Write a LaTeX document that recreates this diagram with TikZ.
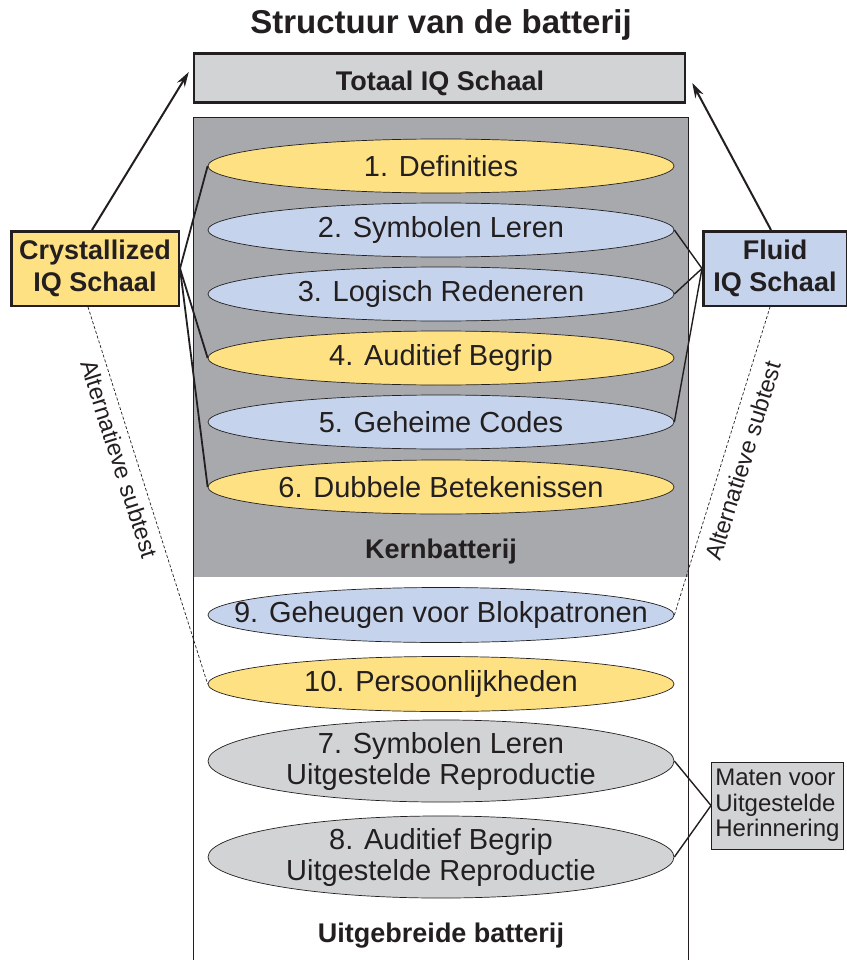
\documentclass[tikz,border=0pt]{standalone}
\usepackage{fontspec}
\setmainfont{Liberation Sans}
\usetikzlibrary{shapes.geometric,arrows.meta}
\definecolor{cyel}{HTML}{FEE183}
\definecolor{cblu}{HTML}{C5D4EC}
\definecolor{cgry}{HTML}{D1D3D4}
\definecolor{cdark}{HTML}{A7A9AC}
\definecolor{cline}{HTML}{231F20}
\begin{document}
\begin{tikzpicture}[x=1pt,y=-1pt,
  ell/.style={ellipse, draw=cline, line width=0.7pt, minimum width=466pt, minimum height=54pt, inner sep=0pt, text=cline, font=\fontsize{29}{31}\selectfont, align=center},
  bigbox/.style={draw=cline, line width=2.5pt, inner sep=0pt, align=center, font=\bfseries\fontsize{27}{32}\selectfont, text=cline},
  lbl/.style={font=\bfseries\fontsize{27}{30}\selectfont, text=cline, anchor=base},
  link/.style={draw=cline, line width=1.8pt},
  flink/.style={draw=cline, line width=1.4pt},
  arr/.style={draw=cline, line width=2pt, -{Stealth[length=15pt,width=9pt]}},
  alt/.style={draw=cline, line width=0.7pt, dash pattern=on 3pt off 2pt},
  altlbl/.style={sloped, below, inner sep=3pt, font=\fontsize{23.5}{25}\selectfont, text=cline},
]
\useasboundingbox (0,0) rectangle (846,960);
% title
\node[lbl, font=\bfseries\fontsize{33}{36}\selectfont] (title) at (441,34) {Structuur van de batterij};
% total box
\node[bigbox, fill=cgry, minimum width=491pt, minimum height=49pt] (tot) at (439.5,78) {};
\node[lbl] (totlbl) at (440,91) {Totaal IQ Schaal};
% core battery background
\fill[cdark] (193,117) rectangle (688,577);
\draw[cline, line width=0.7pt] (193,577) -- (193,117) -- (688,117) -- (688,577);
\draw[cline, line width=0.7pt] (193,577) -- (193,962);
\draw[cline, line width=0.7pt] (688,577) -- (688,962);
\node[lbl] (kern) at (441,558) {Kernbatterij};
\node[lbl] (uitg) at (441,942) {Uitgebreide batterij};
% ellipses
\node[ell, fill=cyel] (e1) at (441,166) {1. Definities};
\node[ell, fill=cblu] (e2) at (441,230) {2. Symbolen Leren};
\node[ell, fill=cblu] (e3) at (441,294) {3. Logisch Redeneren};
\node[ell, fill=cyel] (e4) at (441,358) {4. Auditief Begrip};
\node[ell, fill=cblu] (e5) at (441,422) {5. Geheime Codes};
\node[ell, fill=cyel] (e6) at (441,487) {\makebox[0pt]{6. Dubbele Betekenissen}};
\node[ell, fill=cblu, minimum height=55pt] (e9) at (441,615) {\makebox[0pt]{9. Geheugen voor Blokpatronen}};
\node[ell, fill=cyel, minimum height=55pt] (e10) at (441,684) {10. Persoonlijkheden};
\node[ell, fill=cgry, minimum height=72pt] (e7) at (441,761) {7. Symbolen Leren\\Uitgestelde Reproductie};
\node[ell, fill=cgry, minimum height=72pt] (e8) at (441,857) {8. Auditief Begrip\\Uitgestelde Reproductie};
% side boxes
\node[bigbox, fill=cyel, minimum width=167.5pt, minimum height=74.5pt] (cry) at (95,268.5) {Crystallized\\IQ Schaal};
\node[bigbox, fill=cblu, minimum width=143.5pt, minimum height=74.5pt] (flu) at (775,268.5) {Fluid\\IQ Schaal};
\node[draw=cline, fill=cgry, line width=0.8pt, align=left, inner xsep=4pt, inner ysep=0pt, minimum height=87pt, anchor=west, text=cline, font=\fontsize{24}{25.5}\selectfont] (mat) at (711,805.5) {Maten voor\\Uitgestelde\\Herinnering};
% arrows to total
\draw[arr] ([xshift=-3pt]cry.north) -- ([xshift=-4pt,yshift=6pt]tot.west);
\draw[arr] ([xshift=-4pt]flu.north) -- ([xshift=6pt,yshift=-5pt]tot.east);
% crystallized links
\draw[link] (cry.east) -- (e1.west);
\draw[link] (cry.east) -- (e4.west);
\draw[link] (cry.east) -- (e6.west);
% fluid links
\draw[flink] (flu.west) -- (e2.east);
\draw[flink] (flu.west) -- (e3.east);
\draw[flink] (flu.west) -- (e5.east);
% delayed memory links
\draw[flink] (e7.east) -- (mat.west);
\draw[flink] (e8.east) -- (mat.west);
% alternative subtests
\draw[alt] ([xshift=-7pt]cry.south) -- node[altlbl, pos=0.39, inner sep=7pt] {Alternatieve subtest} (e10.west);
\draw[alt] (e9.east) -- node[altlbl, pos=0.52, inner sep=11pt] {Alternatieve subtest} ([xshift=-5pt]flu.south);
\end{tikzpicture}
\end{document}
